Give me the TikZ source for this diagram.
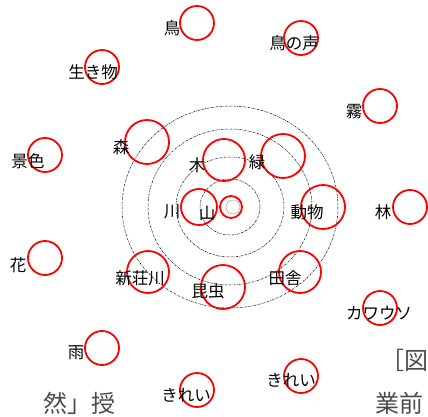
\documentclass[tikz,border=0pt]{standalone}
\usepackage{fontspec}
\newfontfamily\cjk{Noto Sans CJK JP}
\begin{document}
\begin{tikzpicture}[x=1pt,y=-1pt,
  rc/.style={circle,draw=red,line width=1.8pt,inner sep=0pt,minimum size=#1},
  rc/.default=34pt,
  lbl/.style={font=\cjk\fontsize{16.5}{16.5}\selectfont,inner sep=0pt,anchor=center},
  big/.style={font=\cjk\fontsize{24}{24}\selectfont,text=black!70,inner sep=0pt,anchor=center},
  ring/.style={draw=black,line width=0.5pt,dash pattern=on 2pt off 1pt on 0.6pt off 1pt}
]
\useasboundingbox (0,0) rectangle (428,417);
% dashed rings
\coordinate (ctr) at (230,207);
\draw[ring] (ctr) ellipse [x radius=108, y radius=101];
\draw[ring] (ctr) ellipse [x radius=82, y radius=78];
\draw[ring] (ctr) ellipse [x radius=54, y radius=50];
\draw[ring] (ctr) ellipse [x radius=30, y radius=28];
\draw[black!50,line width=0.3pt] (233,207) circle [radius=7];
% red circles
\node[rc] (c1) at (197,23) {};
\node[rc] (c2) at (102,67) {};
\node[rc] (c3) at (301,38) {};
\node[rc] (c4) at (380,106) {};
\node[rc=44pt] (c5) at (147,142) {};
\node[rc=42pt] (c6) at (224,160) {};
\node[rc=44pt] (c7) at (283,156) {};
\node[rc=44pt] (c8) at (323,207) {};
\node[rc=36pt] (c9) at (199,207) {};
\node[rc=22pt] (c10) at (231,207) {};
\node[rc=42pt] (c11) at (148,272) {};
\node[rc=44pt] (c12) at (223,287) {};
\node[rc=42pt] (c13) at (300,272) {};
\node[rc] (c14) at (45,155) {};
\node[rc] (c15) at (45,258) {};
\node[rc] (c16) at (410,207) {};
\node[rc] (c17) at (380,308) {};
\node[rc] (c18) at (102,348) {};
\node[rc] (c19) at (197,390) {};
\node[rc] (c20) at (301,376) {};
% labels
\node[lbl] (t1) at (172,28) {鳥};
\node[lbl] (t2) at (93,72) {生き物};
\node[lbl] (t3) at (294,43) {鳥の声};
\node[lbl] (t4) at (354,112) {霧};
\node[lbl] (t5) at (121,147) {森};
\node[lbl] (t6) at (197,165) {木};
\node[lbl] (t7) at (257,162) {緑};
\node[lbl] (t8) at (307,212) {動物};
\node[lbl] (t9) at (172,212) {川};
\node[lbl] (t10) at (207,213) {山};
\node[lbl] (t11) at (140,278) {新荘川};
\node[lbl] (t12) at (208,291) {昆虫};
\node[lbl] (t13) at (285,278) {田舎};
\node[lbl] (t14) at (28,161) {景色};
\node[lbl] (t15) at (18,265) {花};
\node[lbl] (t16) at (383,212) {林};
\node[lbl] (t17) at (379,313) {カワウソ};
\node[lbl] (t18) at (76,353) {雨};
\node[lbl] (t19) at (186,395) {きれい};
\node[lbl] (t20) at (291,380) {きれい};
% large grey fragments
\node[big] (g1) at (79,403) {然」授};
\node[big] (g2) at (404,360) {［図};
\node[big] (g3) at (399,403) {業前};
\end{tikzpicture}
\end{document}
